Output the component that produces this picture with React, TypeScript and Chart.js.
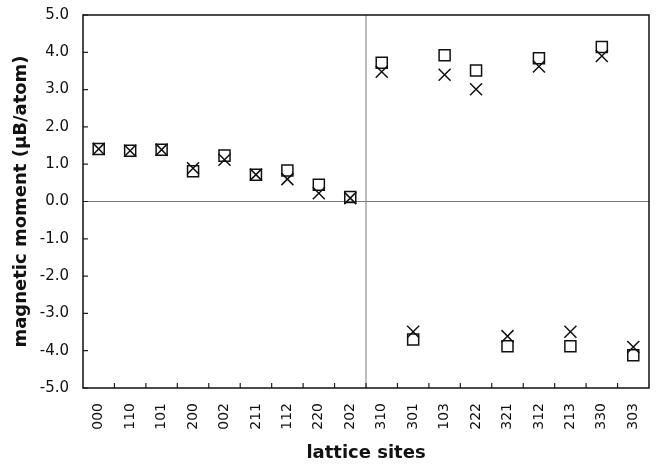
import React, { useEffect, useRef } from "react";
import { Chart, registerables } from "chart.js";

Chart.register(...registerables);

const sites = ["000", "110", "101", "200", "002", "211", "112", "220", "202", "310", "301", "103", "222", "321", "312", "213", "330", "303"];
const squareValues = [1.41, 1.36, 1.39, 0.81, 1.23, 0.72, 0.83, 0.45, 0.12, 3.72, -3.7, 3.92, 3.51, -3.88, 3.84, -3.88, 4.14, -4.12];
const crossValues = [1.41, 1.36, 1.39, 0.89, 1.12, 0.72, 0.6, 0.22, 0.09, 3.48, -3.49, 3.4, 3.01, -3.61, 3.62, -3.49, 3.9, -3.9];
const yTicks = [-5, -4, -3, -2, -1, 0, 1, 2, 3, 4, 5];
const FONT = "'DejaVu Sans', Verdana, sans-serif";

const framePlugin = {
  id: "frame",
  beforeDatasetsDraw(chart: any) {
    const { ctx, chartArea: a, scales } = chart;
    const xs = scales.x;
    const ys = scales.y;
    ctx.save();
    const y0 = ys.getPixelForValue(0);
    ctx.strokeStyle = "#7a7a7a";
    ctx.lineWidth = 1;
    ctx.beginPath();
    ctx.moveTo(a.left, y0);
    ctx.lineTo(a.right, y0);
    ctx.stroke();
    const xd = (xs.getPixelForValue(8) + xs.getPixelForValue(9)) / 2;
    ctx.beginPath();
    ctx.moveTo(xd, a.top);
    ctx.lineTo(xd, a.bottom);
    ctx.stroke();
    ctx.strokeStyle = "#222";
    ctx.lineWidth = 1.2;
    ctx.beginPath();
    for (const v of yTicks) {
      const p = ys.getPixelForValue(v);
      ctx.moveTo(a.left, p);
      ctx.lineTo(a.left + 5, p);
    }
    for (let i = 0; i < sites.length - 1; i++) {
      const p = (xs.getPixelForValue(i) + xs.getPixelForValue(i + 1)) / 2;
      ctx.moveTo(p, a.bottom);
      ctx.lineTo(p, a.bottom - 5);
    }
    ctx.stroke();
    ctx.strokeStyle = "#111";
    ctx.lineWidth = 1.5;
    ctx.strokeRect(a.left, a.top, a.right - a.left, a.bottom - a.top);
    ctx.restore();
  },
};

export default function App() {
  const ref = useRef<HTMLCanvasElement | null>(null);
  useEffect(() => {
    document.body.style.margin = "0";
    const chart = new Chart(ref.current!, {
      type: "line",
      data: {
        labels: sites,
        datasets: [
          {
            label: "squares",
            data: squareValues,
            showLine: false,
            pointStyle: "rect",
            pointRadius: 7.8,
            pointBorderColor: "#111",
            pointBackgroundColor: "rgba(0,0,0,0)",
            pointBorderWidth: 1.5,
          },
          {
            label: "crosses",
            data: crossValues,
            showLine: false,
            pointStyle: "crossRot",
            pointRadius: 8.5,
            pointBorderColor: "#111",
            pointBackgroundColor: "#111",
            pointBorderWidth: 1.5,
          },
        ],
      },
      options: {
        animation: false,
        responsive: false,
        layout: { padding: { top: 15, right: 8, left: 0, bottom: 0 } },
        plugins: { legend: { display: false }, tooltip: { enabled: false } },
        scales: {
          x: {
            type: "category",
            offset: true,
            grid: { display: false, drawTicks: false },
            border: { display: false },
            ticks: {
              minRotation: 90,
              maxRotation: 90,
              padding: 15,
              color: "#111",
              font: { family: FONT, size: 14 },
            },
            title: {
              display: true,
              text: "lattice sites",
              color: "#111",
              font: { family: FONT, size: 18, weight: "bold" },
              padding: { top: 6, bottom: 0 },
            },
            afterFit: (s: any) => {
              s.height = 76;
              s.paddingLeft = 0;
              s.paddingRight = 0;
            },
          },
          y: {
            min: -5,
            max: 5,
            grid: { display: false, drawTicks: false },
            border: { display: false },
            ticks: {
              stepSize: 1,
              padding: 14,
              color: "#111",
              font: { family: FONT, size: 15 },
              callback: (v: any) => Number(v).toFixed(1),
            },
            title: {
              display: true,
              text: "magnetic moment (μB/atom)",
              color: "#111",
              font: { family: FONT, size: 18, weight: "bold" },
              padding: { top: 11, bottom: 0 },
            },
            afterFit: (s: any) => {
              s.width = 83;
              s.paddingTop = 0;
              s.paddingBottom = 0;
            },
          },
        },
      },
      plugins: [framePlugin],
    });
    return () => chart.destroy();
  }, []);
  return <canvas ref={ref} width={659} height={464} style={{ display: "block" }} />;
}
